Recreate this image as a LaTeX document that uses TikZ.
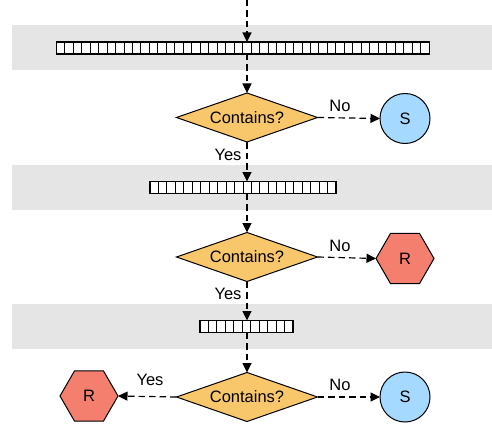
\documentclass[tikz,border=0pt]{standalone}
\usepackage{fontspec}
\setmainfont{Liberation Sans}
\usetikzlibrary{shapes.geometric,arrows.meta,calc}
\definecolor{bandgray}{HTML}{E5E5E5}
\definecolor{decorange}{HTML}{F8C76B}
\definecolor{okblue}{HTML}{A6D9FF}
\definecolor{rejred}{HTML}{F47F6E}
\tikzset{
  lbl/.style={font=\fontsize{16.5}{18}\selectfont, inner sep=0pt},
  band/.style={fill=bandgray, draw=none},
  strip/.style={draw=black, line width=1.2pt, fill=white, minimum height=12pt, inner sep=0pt, outer sep=0pt},
  decision/.style={diamond, draw=black, line width=1pt, fill=decorange, minimum width=141pt, minimum height=49pt, shape aspect=2.88, inner sep=0pt, outer sep=0pt, font=\fontsize{16.5}{18}\selectfont},
  accept/.style={circle, draw=black, line width=1pt, fill=okblue, minimum size=50pt, inner sep=0pt, outer sep=0pt, font=\fontsize{16.5}{18}\selectfont},
  reject/.style={regular polygon, regular polygon sides=6, draw=black, line width=1pt, fill=rejred, minimum size=58pt, inner sep=0pt, outer sep=0pt, font=\fontsize{16.5}{18}\selectfont},
  flow/.style={draw=black, line width=1.2pt, dash pattern=on 6.5pt off 4pt, -{Triangle[length=9.5pt,width=9pt]}},
}
\begin{document}
\begin{tikzpicture}[x=1pt,y=-1pt]
\useasboundingbox (0,0) rectangle (492,425);
% bands
\fill[band] (12,25) rectangle (492,70);
\fill[band] (12,165) rectangle (492,210);
\fill[band] (12,304) rectangle (492,349);
% strips
\node[strip, minimum width=373pt] (s1) at (242.7,48) {};
\foreach \i in {1,...,43} \draw[line width=1pt] ($(s1.north west)+(\i*8.477,0)$) -- ($(s1.south west)+(\i*8.477,0)$);
\node[strip, minimum width=186pt] (s2) at (243,187.5) {};
\foreach \i in {1,...,21} \draw[line width=1pt] ($(s2.north west)+(\i*8.4545,0)$) -- ($(s2.south west)+(\i*8.4545,0)$);
\node[strip, minimum width=93pt] (s3) at (246.5,326.5) {};
\foreach \i in {1,...,10} \draw[line width=1pt] ($(s3.north west)+(\i*8.4545,0)$) -- ($(s3.south west)+(\i*8.4545,0)$);
% decisions
\node[decision] (d1) at (247,117.5) {Contains?};
\node[decision] (d2) at (247,257) {Contains?};
\node[decision] (d3) at (247,397) {Contains?};
% outcomes
\node[accept] (a1) at (405,118.5) {S};
\node[reject] (r2) at (405,258.5) {R};
\node[accept] (a3) at (405,397) {S};
\node[reject] (r3) at (89,396) {R};
% connectors
\coordinate (top) at (247,0);
\draw[flow] (top) -- (s1.north -| top);
\draw[flow] (s1.south -| top) -- (d1.north);
\draw[flow] (d1.south) -- (s2.north -| d1.south);
\draw[flow] (s2.south -| d1.south) -- (d2.north);
\draw[flow] (d2.south) -- (s3.north -| d2.south);
\draw[flow] (s3.south -| d2.south) -- (d3.north);
\draw[flow] (d1.east) -- (a1.west);
\draw[flow] (d2.east) -- (r2.west);
\draw[flow] (d3.east) -- (a3.west);
\draw[flow] (d3.west) -- (r3.east);
% labels
\node[lbl] (no1) at (340,106) {No};
\node[lbl] (no2) at (340,246) {No};
\node[lbl] (no3) at (340,385) {No};
\node[lbl] (y1) at (228,155) {Yes};
\node[lbl] (y2) at (228,294) {Yes};
\node[lbl] (y3) at (150,380) {Yes};
\end{tikzpicture}
\end{document}
